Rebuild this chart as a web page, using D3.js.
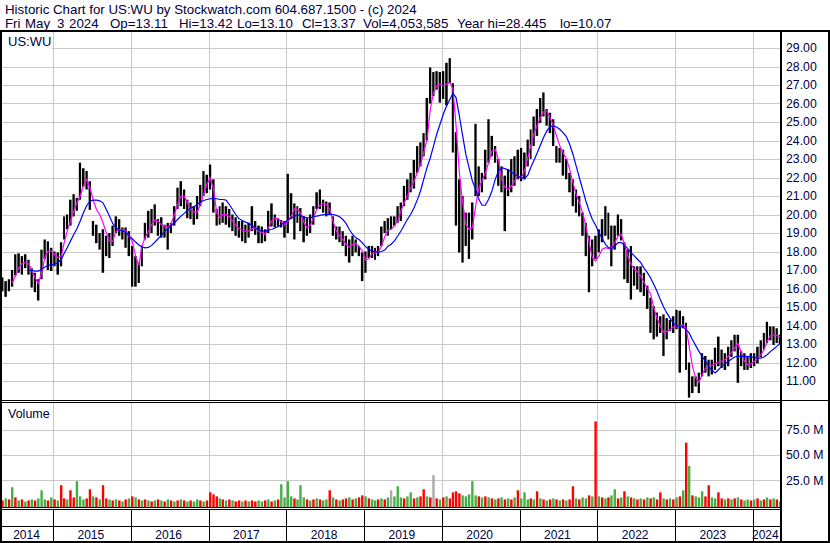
<!DOCTYPE html>
<html><head><meta charset="utf-8">
<script src="https://cdn.jsdelivr.net/npm/d3@7"></script>
<style>
body{margin:0;background:#fff}
svg text{font-family:"Liberation Sans",Arial,sans-serif;fill:#000040}
</style>
</head><body><svg id="c" width="830" height="543"></svg>
<script>
// semi-monthly periods starting 2014-05-01 (1st and 16th of each month)
const hi = [
16.6,16.4,16.5,17.0,17.85,17.9,17.75,17.85,17.55,17.1,
16.85,16.5,18.1,18.65,18.55,18.2,18.0,17.95,18.5,19.9,
20.0,20.8,21.1,20.9,22.8,22.5,22.35,21.8,19.65,19.45,
19.0,19.2,18.85,19.0,19.4,19.9,19.75,19.3,19.3,19.1,
18.3,17.75,17.4,18.3,19.55,20.2,20.3,20.55,19.75,19.85,
19.45,19.55,19.55,20.45,21.45,21.8,21.35,20.8,20.65,20.45,
21.0,21.6,22.35,22.15,22.7,21.9,20.3,20.45,20.65,20.45,
20.3,20.0,19.85,19.65,19.65,19.45,19.55,20.45,19.65,19.4,
19.35,19.2,20.2,20.6,20.0,19.8,19.7,19.65,22.2,21.15,
20.6,20.45,20.35,19.9,19.8,20.0,20.45,21.2,21.35,20.8,
20.7,20.65,19.9,19.35,19.35,19.1,18.85,18.65,18.85,18.65,
18.3,17.95,18.0,18.3,18.3,18.2,18.3,19.35,19.65,19.8,
19.9,19.9,20.45,20.65,21.55,21.9,22.25,22.95,23.7,23.9,
24.4,26.3,27.95,27.7,27.75,27.7,27.75,28.2,28.45,27.1,
24.45,21.9,21.0,20.1,20.1,20.65,24.9,22.6,22.25,23.5,
25.15,24.25,23.7,23.0,22.6,22.1,22.45,23.0,23.15,23.5,
23.6,23.35,24.05,24.6,25.3,25.7,26.3,26.6,25.7,25.5,
25.15,23.7,23.6,23.5,23.0,22.25,21.9,21.35,21.0,20.1,
19.55,18.85,18.65,18.85,19.2,19.75,20.45,20.1,19.4,19.4,
20.0,19.75,18.5,18.1,18.3,17.2,17.2,17.2,16.85,16.15,
15.5,15.05,14.7,14.5,14.6,14.4,14.3,14.5,14.85,14.8,
14.5,14.15,12.0,11.25,11.25,11.45,12.5,12.35,12.15,12.15,
12.8,13.4,12.7,12.5,12.85,13.2,13.5,13.5,12.6,12.5,
12.3,12.5,12.5,12.85,13.2,13.6,14.2,13.95,13.95,13.85,
13.5];
const lo = [
15.85,15.55,15.85,16.1,16.7,16.85,16.75,17.1,16.75,16.05,
15.8,15.35,16.5,17.6,17.0,16.95,17.2,16.75,17.2,18.65,
19.2,19.4,19.9,20.2,20.8,21.5,21.35,20.25,18.85,18.45,
18.1,16.85,17.75,17.65,18.3,19.0,18.85,18.65,18.2,17.75,
16.1,16.1,16.3,17.2,18.65,18.75,19.0,19.4,18.85,18.75,
18.75,18.1,19.0,19.4,20.3,20.45,20.3,19.8,19.75,19.45,
19.75,20.45,21.0,21.15,21.35,20.1,19.4,19.45,19.55,19.45,
19.3,19.1,18.85,18.75,18.55,18.45,18.75,19.1,18.9,18.45,
18.45,18.55,19.0,19.35,19.3,19.35,19.3,18.75,19.0,19.75,
18.65,19.55,19.1,18.5,18.85,19.0,19.45,20.3,20.3,20.1,
19.9,20.0,18.85,18.65,18.5,18.3,17.75,17.4,17.75,17.95,
17.75,16.4,16.85,17.65,17.65,17.55,17.75,18.3,19.0,18.85,
19.2,19.4,19.55,19.65,20.45,20.8,21.2,21.4,22.25,22.6,
23.15,24.0,26.0,26.4,26.75,26.05,26.25,25.9,27.1,23.35,
19.4,17.95,17.4,18.3,17.6,18.65,21.0,21.0,21.2,21.9,
22.8,23.15,22.8,21.55,21.2,19.1,21.0,21.2,21.55,21.9,
21.8,21.9,22.6,23.0,23.7,24.25,24.95,25.3,24.8,24.4,
23.7,22.8,22.8,22.1,21.9,21.2,20.45,20.1,19.9,18.85,
17.75,15.8,17.2,17.6,17.95,18.5,18.85,18.65,17.2,18.1,
18.85,18.6,16.5,16.3,15.4,16.15,15.95,15.8,15.6,14.9,
13.6,13.25,13.4,13.6,12.35,13.25,13.7,13.6,13.8,11.45,
13.85,11.6,10.1,10.35,10.7,10.35,11.25,11.45,11.25,11.35,
11.6,11.8,11.7,11.6,11.8,12.3,12.6,10.9,11.8,11.6,
11.6,11.7,11.8,11.95,12.3,12.7,13.05,13.2,12.95,13.05,
13.0];
const maShort = [
null,null,null,16.3,16.67,17.12,17.35,17.4,17.34,17.03,
16.58,16.27,16.85,17.66,18.02,18.02,17.84,17.66,17.75,18.47,
19.1,19.64,20.18,20.63,20.99,21.54,21.9,21.45,20.81,20.27,
20.0,19.55,19.01,18.56,18.56,19.1,19.19,19.19,19.1,18.83,
18.56,17.75,17.25,18.29,18.74,19.1,19.46,19.7,19.64,19.46,
19.37,19.28,19.46,20.0,20.54,20.99,20.99,20.63,20.27,20.13,
20.13,20.54,21.09,21.63,21.99,21.36,20.09,19.82,20.0,20.0,
19.88,19.64,19.41,19.23,19.16,19.1,19.1,19.23,19.28,19.1,
19.05,18.92,19.28,19.64,19.82,19.77,19.59,19.46,19.64,19.91,
20.31,20.27,20.06,19.59,19.28,19.41,19.82,20.27,20.49,20.6,
20.54,20.27,19.64,19.1,18.83,18.65,18.38,18.26,18.38,18.44,
18.29,18.02,17.54,17.61,17.9,17.93,17.97,18.29,18.8,19.16,
19.2,19.38,19.65,20.19,20.64,21.0,21.45,21.81,22.26,22.71,
23.34,24.06,25.69,26.59,26.95,27.04,26.95,27.04,27.13,26.77,
24.79,22.26,20.64,19.47,19.2,19.29,20.46,21.45,21.81,22.26,
22.8,23.43,23.52,22.98,21.9,21.45,21.36,21.54,21.81,22.08,
21.99,22.35,23.08,23.71,24.34,24.79,25.24,25.54,25.6,25.24,
24.79,24.25,23.71,23.35,23.02,22.45,21.72,21.09,20.64,20.1,
19.38,18.48,17.67,17.49,17.76,18.12,18.21,18.16,18.21,18.48,
18.84,18.93,18.39,17.76,17.31,17.04,16.9,16.68,16.32,16.0,
15.7,14.95,14.4,13.95,13.63,13.68,13.77,13.92,13.99,13.99,
14.03,13.86,12.87,11.79,11.16,10.93,11.34,11.7,11.83,11.86,
11.94,12.01,12.08,12.15,12.33,12.55,12.78,13.02,12.51,12.06,
11.88,11.94,12.06,12.24,12.42,12.69,13.14,13.45,13.5,13.45,
13.38];
const maLong = [
null,null,null,null,null,null,null,null,17.0,16.98,
16.94,16.94,17.03,17.16,17.25,17.28,17.32,17.39,17.57,17.9,
18.2,18.56,18.92,19.23,19.64,20.09,20.49,20.72,20.78,20.78,
20.74,20.63,20.27,19.91,19.52,19.28,19.16,19.12,19.05,18.83,
18.69,18.51,18.35,18.26,18.2,18.22,18.33,18.51,18.69,18.87,
19.09,19.23,19.41,19.55,19.73,19.91,20.06,20.22,20.35,20.42,
20.54,20.67,20.76,20.81,20.85,20.87,20.85,20.81,20.81,20.78,
20.54,20.27,20.0,19.77,19.68,19.59,19.52,19.41,19.28,19.16,
19.09,19.12,19.17,19.19,19.27,19.34,19.45,19.55,19.7,19.81,
19.91,19.97,19.95,19.88,19.82,19.82,19.88,19.91,19.95,19.99,
20.0,20.02,20.0,19.95,19.88,19.73,19.52,19.19,18.92,18.74,
18.65,18.47,18.26,18.11,18.02,17.99,17.97,18.0,18.08,18.29,
18.39,18.57,18.84,19.11,19.42,19.74,20.01,20.37,20.79,21.27,
21.9,22.53,23.07,23.7,24.34,24.88,25.42,25.87,26.23,26.55,
26.32,25.33,24.25,23.25,22.53,21.81,21.36,20.82,20.5,20.5,
20.82,21.27,21.9,22.35,22.53,22.48,22.41,22.3,22.17,22.05,
21.99,21.94,22.12,22.54,22.9,23.31,23.74,24.16,24.52,24.75,
24.79,24.73,24.61,24.43,24.21,23.8,23.26,22.63,22.0,21.36,
20.73,20.19,19.74,19.42,19.02,18.7,18.39,18.21,18.16,18.3,
18.48,18.48,18.34,18.16,17.94,17.76,17.58,17.4,17.1,16.86,
16.57,16.21,15.85,15.4,15.0,14.68,14.4,14.13,13.99,13.95,
13.92,13.77,13.6,13.23,12.91,12.6,12.33,12.06,11.79,11.58,
11.43,11.61,11.79,11.94,12.06,12.19,12.3,12.33,12.33,12.33,
12.33,12.3,12.28,12.24,12.24,12.3,12.42,12.59,12.73,12.87,
13.02];
const vol = [
5,7,6,18,8,5,6,4,5,6,
5,7,15,6,5,8,6,5,20,7,
6,15,8,24,9,6,7,16,9,8,
6,20,7,6,5,6,5,4,6,7,
9,8,6,5,6,5,4,5,6,5,
4,6,5,4,5,6,5,4,5,4,
6,5,4,5,13,11,9,7,6,5,
6,5,4,5,4,5,4,5,4,5,
4,5,6,4,5,6,21,8,24,9,
7,6,20,8,6,5,6,7,6,5,
6,15,8,6,5,6,7,8,6,7,
8,10,9,7,6,5,6,7,6,8,
15,9,19,8,7,9,13,7,8,9,
16,9,8,30,7,6,8,9,7,13,
14,12,10,9,11,24,10,9,8,9,
8,7,6,7,8,6,7,6,8,15,
7,13,6,7,6,14,7,6,5,6,
7,6,5,6,5,6,19,7,6,8,
7,10,9,83,9,8,7,8,10,16,
7,8,14,9,8,7,6,7,6,8,
7,8,6,13,7,6,7,6,8,9,
15,62,39,10,9,8,14,9,20,8,
7,13,7,6,7,6,7,8,6,5,
6,5,6,7,5,6,8,6,7,6,
4];
const volDir = "rgrgrgrgrg"+"rgggrgrgrr"+"grrgggrrgr"+"grrgrgrgrg"+"rgrgrgrgrg"+"rgrgrgrgrg"+"grgrrrrgrg"+"rgrrgrgrrg"+"grgrgrgggg"+"rgggrgrgrg"+"grgrgrrgrg"+"rrgrggrgrg"+"ngggrggrgr"+"rgrnrgrgrr"+"rrgggggrgr"+"grgrgrgrgr"+"gggrgrgrgr"+"grgrgrrgrg"+"grgrgrgrgg"+"rgrgrgrgrg"+"rgrrgrgrgr"+"grgrgggrrg"+"grrgrgrgrg"+"grgrgrgrgr"+"g";
const priceTicks = [11,12,13,14,15,16,17,18,19,20,21,22,23,24,25,26,27,28,29];
const volTicks = [25,50,75];
const years = [2014,2015,2016,2017,2018,2019,2020,2021,2022,2023,2024];
const headerLine1 = "Historic Chart for US:WU by Stockwatch.com 604.687.1500 - (c) 2024";
const headerTokens = ["Fri","May","3","2024","Op=13.11","Hi=13.42","Lo=13.10","Cl=13.37","Vol=4,053,585","Year hi=28.445","lo=10.07"];

const svg = d3.select("#c");
const L = 2, R = 780, PT = 32, PB = 400, VT = 403, VB = 507;
const x = d3.scaleUtc().domain([new Date(Date.UTC(2015,0,1)), new Date(Date.UTC(2024,0,1))]).range([53, 752.7]);
const y = d3.scaleLinear().domain([11,29]).range([381,48]);
const yv = d3.scaleLinear().domain([0,75]).range([505.5,429.5]);
const dates = d3.range(hi.length+1).map(k => new Date(Date.UTC(2014, 4+Math.floor(k/2), k%2 ? 16 : 1)));
const xc = k => (x(dates[k]) + x(dates[k+1]))/2;
const grid = "#c8c8c8";

svg.append("rect").attr("width",830).attr("height",543).attr("fill","#fff");
const defs = svg.append("defs");
defs.append("clipPath").attr("id","cp").append("rect").attr("x",L).attr("y",PT).attr("width",R-L).attr("height",PB-PT);
defs.append("clipPath").attr("id","cv").append("rect").attr("x",L).attr("y",VT).attr("width",R-L).attr("height",VB-VT);

// header
svg.append("text").attr("x",5).attr("y",13.5).style("font-size","13.3px").text(headerLine1);
const tokX = [5,25,57,69,110,179,237,302,363,457,560];
const h2 = svg.append("text").attr("y",27.5).style("font-size","13.3px");
headerTokens.forEach((t,i)=>h2.append("tspan").attr("x",tokX[i]).text(t + (i<headerTokens.length-1?" ":"")));

// grids
const yearBounds = years.slice(1).map(yr => x(new Date(Date.UTC(yr,0,1))));
const g = svg.append("g");
g.selectAll("line.hg").data(priceTicks).join("line").attr("x1",L).attr("x2",R)
 .attr("y1",d=>Math.round(y(d))+0.5).attr("y2",d=>Math.round(y(d))+0.5).attr("stroke",grid);
g.selectAll("line.vg").data(yearBounds).join("line").attr("class","vg").attr("x1",d=>Math.round(d)+0.5).attr("x2",d=>Math.round(d)+0.5)
 .attr("y1",PT).attr("y2",PB).attr("stroke",grid);
g.selectAll("line.vv").data(yearBounds).join("line").attr("class","vv").attr("x1",d=>Math.round(d)+0.5).attr("x2",d=>Math.round(d)+0.5)
 .attr("y1",VT).attr("y2",VB).attr("stroke",grid);
g.selectAll("line.vh").data(volTicks).join("line").attr("class","vh").attr("x1",L).attr("x2",R)
 .attr("y1",d=>Math.round(yv(d))+0.5).attr("y2",d=>Math.round(yv(d))+0.5).attr("stroke",grid);

// price bars
const pg = svg.append("g").attr("clip-path","url(#cp)");
pg.selectAll("rect").data(hi).join("rect")
 .attr("x",(d,k)=>x(dates[k])+0.3).attr("width",(d,k)=>Math.max(1,x(dates[k+1])-x(dates[k])-0.9))
 .attr("y",d=>y(d)).attr("height",(d,k)=>Math.max(1,y(lo[k])-y(d))).attr("fill","#000");
const line = d3.line().defined(d=>d[1]!=null).x(d=>xc(d[0])).y(d=>y(d[1]));
pg.append("path").attr("d",line(maShort.map((v,k)=>[k,v]))).attr("fill","none").attr("stroke","#ff00ff").attr("stroke-width",1.2);
pg.append("path").attr("d",line(maLong.map((v,k)=>[k,v]))).attr("fill","none").attr("stroke","#0000ff").attr("stroke-width",1.2);

// volume
const colors = {r:"#ff0000", g:"#44b044", n:"#a8a8a8"};
const vg = svg.append("g").attr("clip-path","url(#cv)");
vg.selectAll("rect").data(vol).join("rect")
 .attr("x",(d,k)=>xc(k)-1.2).attr("width",2.4)
 .attr("y",d=>yv(d)).attr("height",d=>VB-yv(d)).attr("fill",(d,k)=>colors[volDir[k]]);

// labels in panels
svg.append("rect").attr("x",L).attr("y",PT+1).attr("width",50).attr("height",16).attr("fill","#fff");
svg.append("text").attr("x",8).attr("y",46).style("font-size","13px").text("US:WU");
svg.append("text").attr("x",8).attr("y",418).style("font-size","12.5px").text("Volume");

// axes
const ay = d3.axisRight(y).tickValues(priceTicks).tickFormat(d3.format(".2f")).tickSize(0).tickPadding(6);
const ayg = svg.append("g").attr("transform",`translate(${R},0)`).call(ay);
ayg.select(".domain").remove();
ayg.selectAll("text").style("font-size","12.3px").attr("fill","#000040").style("font-family","Liberation Sans, Arial, sans-serif");
const av = d3.axisRight(yv).tickValues(volTicks).tickFormat(d=>d3.format(".1f")(d)+" M").tickSize(0).tickPadding(6);
const avg = svg.append("g").attr("transform",`translate(${R},0)`).call(av);
avg.select(".domain").remove();
avg.selectAll("text").style("font-size","12.3px").attr("fill","#000040").style("font-family","Liberation Sans, Arial, sans-serif");

// year labels
years.forEach(yr => {
  const a = Math.max(L, x(new Date(Date.UTC(yr,0,1))));
  const b = Math.min(R, x(new Date(Date.UTC(yr+1,0,1))));
  svg.append("text").attr("x",(a+b)/2-1).attr("y",539).attr("text-anchor","middle").style("font-size","12px").text(String(yr));
});

// frame
const blk = (x0,y0,w,h)=>svg.append("rect").attr("x",x0).attr("y",y0).attr("width",w).attr("height",h).attr("fill","#000");
blk(0,30,830,2);
blk(0,30,2,513);
blk(828,30,2,513);
blk(780,30,2,513);
blk(0,541,830,2);
blk(0,400,780,1); blk(0,402,780,1); blk(780,400,50,1);
blk(0,507,780,1); blk(0,509,780,1);
blk(0,526,780,1);
yearBounds.forEach(d=>blk(Math.round(d),509,1,33));
</script>
</body></html>
